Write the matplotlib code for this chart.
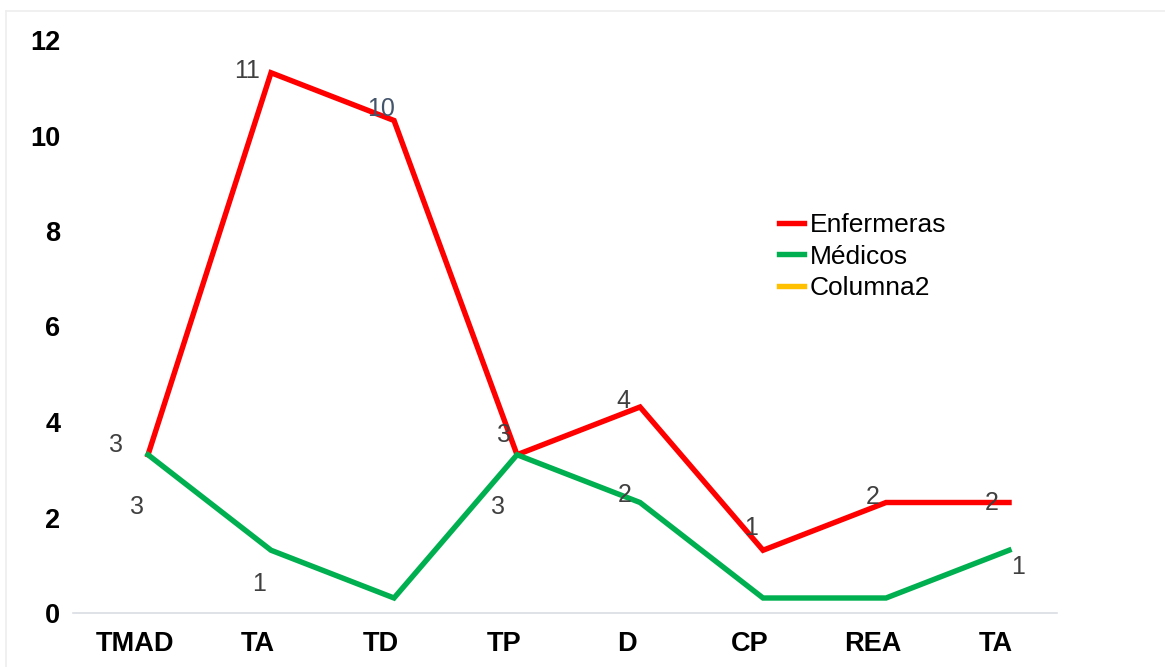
import matplotlib.pyplot as plt
from matplotlib.lines import Line2D
from matplotlib.transforms import ScaledTranslation

plt.rcParams['font.family'] = ['Liberation Sans', 'DejaVu Sans']

categories = ['TMAD', 'TA', 'TD', 'TP', 'D', 'CP', 'REA', 'TA']
enfermeras = [3, 11, 10, 3, 4, 1, 2, 2]
medicos = [3, 1, 0, 3, 2, 0, 0, 1]
columna2 = []
y_ticks = [0, 2, 4, 6, 8, 10, 12]

# label offsets in pixels from each point (None = no label shown)
enf_offsets = [(-32, 10), (-24, 2), (-13, 12), (-13, 20), (-17, 6), (-12, 22), (-13, 6), (-17, 0)]
med_offsets = [(-11, -52), (-12, -34), None, (-19, -52), (-15, 8), None, None, (9, -17)]

fig = plt.figure(figsize=(11.65, 6.67), dpi=100)
ax = fig.add_axes([73 / 1165, 1 - 613 / 667, (1057 - 73) / 1165, (613 - 40) / 667])

# the series sit 15 px above the axis scale in the original picture
shift = ax.transData + ScaledTranslation(0, 15 / 100, fig.dpi_scale_trans)
x = list(range(len(categories)))

ax.plot(x, enfermeras, color='#FF0000', lw=3.9, label='Enfermeras', transform=shift,
        solid_joinstyle='miter', clip_on=False)
ax.plot(x, medicos, color='#00B050', lw=3.9, label='Médicos', transform=shift,
        solid_joinstyle='miter', clip_on=False)
ax.plot(x[:len(columna2)], columna2, color='#FFC000', lw=3.9, label='Columna2')

for i, (v, off) in enumerate(zip(enfermeras, enf_offsets)):
    col = '#44546A' if i == 2 else '#404040'
    ax.annotate(str(v), (i, v), xytext=(off[0], off[1] + 15), textcoords='offset pixels',
                ha='center', va='center', fontsize=18, color=col)
for i, (v, off) in enumerate(zip(medicos, med_offsets)):
    if off is None:
        continue
    ax.annotate(str(v), (i, v), xytext=(off[0], off[1] + 15), textcoords='offset pixels',
                ha='center', va='center', fontsize=18, color='#404040')

ax.set_xlim(-0.61, 7.39)
ax.set_ylim(0, 12)
ax.set_xticks(x)
ax.set_xticklabels(categories, fontsize=19.5, fontweight='bold')
ax.set_yticks(y_ticks)
ax.set_yticklabels([str(t) for t in y_ticks], fontsize=19.5, fontweight='bold')
ax.tick_params(axis='both', length=0)
ax.tick_params(axis='x', pad=13)
ax.tick_params(axis='y', pad=9)
# category labels sit a little left of their points in the original
for lab in ax.get_xticklabels():
    lab.set_transform(lab.get_transform() + ScaledTranslation(-13 / 100, 0, fig.dpi_scale_trans))
for s in ['top', 'right', 'left']:
    ax.spines[s].set_visible(False)
ax.spines['bottom'].set_color('#D9DDE3')
ax.spines['bottom'].set_linewidth(1.2)

ax.legend(loc='upper left', bbox_to_anchor=(766 / 1165, 1 - 200 / 667),
          bbox_transform=fig.transFigure, frameon=False, fontsize=19,
          handlelength=0.95, handletextpad=0.2, labelspacing=0.28, borderpad=0)

# faint frame of the original image
fig.add_artist(Line2D([6 / 1165, 1], [1 - 11 / 667, 1 - 11 / 667], color='#EEEEEE', lw=1.2))
fig.add_artist(Line2D([6 / 1165, 6 / 1165], [0, 1 - 11 / 667], color='#EEEEEE', lw=1.2))

fig.savefig('out.png', dpi=100)
